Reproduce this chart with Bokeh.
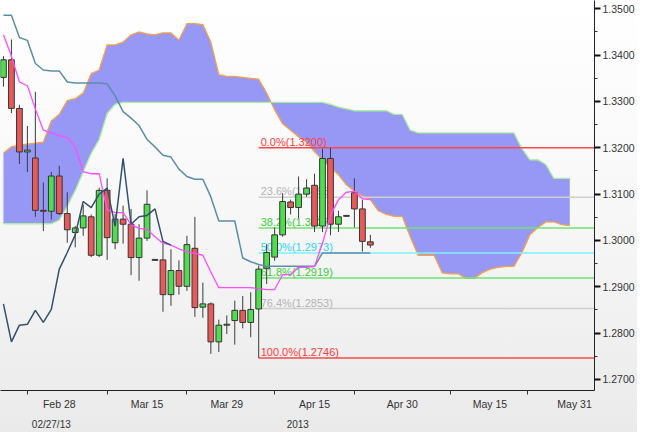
import numpy as np
from bokeh.plotting import figure
from bokeh.models import FixedTicker, LinearAxis, Range1d, PrintfTickFormatter
from bokeh.core.properties import value
from bokeh.embed import file_html
from bokeh.resources import INLINE

# ---------------- data ----------------
opens = [1.3352, 1.3390, 1.3285, 1.3191, 1.3178, 1.3065, 1.3063, 1.3139, 1.3058, 1.3017,
         1.3027, 1.3051, 1.2968, 1.3108, 1.2995, 1.3046, 1.3035, 1.2963, 1.3005, 1.2957,
         1.2958, 1.2883, 1.2935, 1.2901, 1.2983, 1.2856, 1.2863, 1.2781, 1.2817, 1.2827,
         1.2849, 1.2823, 1.2852, 1.2940, 1.2964, 1.3012, 1.3083, 1.3071, 1.3100, 1.3119,
         1.3031, 1.3177, 1.3035, 1.3052, 1.3103, 1.3068, 1.2997]
highs = [1.3398, 1.3434, 1.3293, 1.3247, 1.3321, 1.3125, 1.3148, 1.3161, 1.3104, 1.3031,
         1.3077, 1.3056, 1.3114, 1.3134, 1.3057, 1.3075, 1.3068, 1.3035, 1.3108, 1.2960,
         1.2998, 1.2981, 1.2957, 1.3010, 1.3051, 1.2909, 1.2866, 1.2829, 1.2838, 1.2870,
         1.2880, 1.2888, 1.2946, 1.2992, 1.3028, 1.3102, 1.3088, 1.3138, 1.3132, 1.3144,
         1.3198, 1.3200, 1.3064, 1.3054, 1.3134, 1.3088, 1.3012]
lows = [1.3332, 1.3275, 1.3165, 1.3148, 1.3051, 1.3020, 1.3045, 1.3055, 1.2995, 1.2985,
        1.3010, 1.2964, 1.2964, 1.2958, 1.2981, 1.2993, 1.2925, 1.2913, 1.2999, 1.2956,
        1.2846, 1.2859, 1.2883, 1.2891, 1.2835, 1.2833, 1.2755, 1.2759, 1.2798, 1.2775,
        1.2810, 1.2791, 1.2746, 1.2906, 1.2956, 1.3008, 1.3056, 1.3048, 1.3094, 1.3018,
        1.3018, 1.3011, 1.3018, 1.3051, 1.3028, 1.2976, 1.2984]
closes = [1.3390, 1.3285, 1.3191, 1.3195, 1.3065, 1.3063, 1.3139, 1.3058, 1.3023, 1.3027,
          1.3053, 1.2968, 1.3108, 1.3006, 1.3046, 1.3035, 1.2963, 1.3005, 1.3078, 1.2959,
          1.2883, 1.2935, 1.2901, 1.2991, 1.2855, 1.2863, 1.2781, 1.2817, 1.2819, 1.2849,
          1.2823, 1.2851, 1.2938, 1.2974, 1.3012, 1.3084, 1.3071, 1.3100, 1.3113, 1.3031,
          1.3177, 1.3035, 1.3051, 1.3054, 1.3068, 1.2998, 1.2990]

tenkan = [1.3444, 1.3398, 1.3342, 1.3334, 1.3284, 1.3238, 1.3232, 1.3226, 1.3222, 1.3202,
          1.3148, 1.3144, 1.3144, 1.3066, 1.3060, 1.3060, 1.3034, 1.3026, 1.3024, 1.3008,
          1.2994, 1.2990, 1.2982, 1.2976, 1.2972, 1.2968, 1.2932, 1.2898, 1.2898, 1.2898,
          1.2898, 1.2898, 1.2896, 1.2894, 1.2894, 1.2926, 1.2926, 1.2942, 1.2942, 1.2944,
          1.2994, 1.3054, 1.3088, 1.3104, 1.3106, 1.3090, 1.3088]
kijun = [1.3486, 1.3486, 1.3438, 1.3432, 1.3382, 1.3368, 1.3366, 1.3366, 1.3342, 1.3340,
         1.3340, 1.3340, 1.3340, 1.3338, 1.3312, 1.3278, 1.3264, 1.3248, 1.3218, 1.3202,
         1.3184, 1.3180, 1.3154, 1.3138, 1.3132, 1.3132, 1.3094, 1.3042, 1.3042, 1.3042,
         1.2962, 1.2954, 1.2948, 1.2944, 1.2944, 1.2944, 1.2944, 1.2944, 1.2944, 1.2944,
         1.2973, 1.2973, 1.2973, 1.2973, 1.2973, 1.2973, 1.2973]
span_a = [1.3188, 1.3202, 1.3206, 1.3208, 1.3210, 1.3212, 1.3258, 1.3272, 1.3302, 1.3306,
          1.3318, 1.3360, 1.3368, 1.3422, 1.3422, 1.3428, 1.3444, 1.3450, 1.3446, 1.3444,
          1.3448, 1.3448, 1.3432, 1.3468, 1.3468, 1.3466, 1.3428, 1.3358, 1.3354, 1.3354,
          1.3352, 1.3350, 1.3348, 1.3318, 1.3282, 1.3252, 1.3238, 1.3224, 1.3212, 1.3192,
          1.3174, 1.3158, 1.3142, 1.3120, 1.3106, 1.3096, 1.3088, 1.3064, 1.3056, 1.3052,
          1.3052, 1.3008, 1.2968, 1.2968, 1.2968, 1.2930, 1.2928, 1.2928, 1.2918, 1.2918,
          1.2930, 1.2938, 1.2942, 1.2944, 1.2944, 1.2974, 1.3012, 1.3028, 1.3040, 1.3040,
          1.3034, 1.3032]
span_b = [1.3036, 1.3036, 1.3036, 1.3036, 1.3036, 1.3036, 1.3036, 1.3044, 1.3074, 1.3108,
          1.3148, 1.3188, 1.3218, 1.3274, 1.3294, 1.3298, 1.3298, 1.3298, 1.3298, 1.3298,
          1.3298, 1.3298, 1.3298, 1.3298, 1.3298, 1.3298, 1.3298, 1.3298, 1.3298, 1.3298,
          1.3298, 1.3298, 1.3298, 1.3298, 1.3298, 1.3298, 1.3298, 1.3298, 1.3298, 1.3298,
          1.3298, 1.3294, 1.3288, 1.3284, 1.3280, 1.3280, 1.3280, 1.3280, 1.3280, 1.3272,
          1.3272, 1.3238, 1.3232, 1.3232, 1.3232, 1.3232, 1.3232, 1.3232, 1.3232, 1.3232,
          1.3232, 1.3232, 1.3232, 1.3232, 1.3232, 1.3198, 1.3174, 1.3174, 1.3164, 1.3134,
          1.3134, 1.3134]
chikou_lag = 25

fib_labels = ["0.0%(1.3200)", "23.6%(1.3093)", "38.2%(1.3027)", "50.0%(1.2973)",
              "61.8%(1.2919)", "76.4%(1.2853)", "100.0%(1.2746)"]
fib_levels = [1.3200, 1.3093, 1.3027, 1.2973, 1.2919, 1.2853, 1.2746]
fib_start = 32

x_tick_pos = [7, 18, 28, 39, 50, 61, 71.6]
x_tick_labels = ["Feb 28", "Mar 15", "Mar 29", "Apr 15", "Apr 30", "May 15", "May 31"]
x_minor_pos = [3, 13, 23, 34, 44, 56, 65.7]
y_ticks = [1.27, 1.28, 1.29, 1.30, 1.31, 1.32, 1.33, 1.34, 1.35]
y_minor = [1.275, 1.285, 1.295, 1.305, 1.315, 1.325, 1.335, 1.345]
row2_pos = [6, 36.9]
row2_labels = ["02/27/13", "2013"]

# ---------------- styles ----------------
FONT = "Liberation Sans"
UP, DOWN, EDGE = "#4fdc4f", "#e85a5a", "#353535"

n = len(closes)
idx = np.arange(n)
cidx = np.arange(len(span_a))
o = np.array(opens); c = np.array(closes)

XR = (-0.37, 74.1)
p = figure(width=637, height=432, output_backend="svg", toolbar_location=None,
           x_range=Range1d(*XR), y_range=Range1d(1.2676, 1.3518),
           y_axis_location="right", min_border_left=0, min_border_top=0,
           min_border_right=40, min_border_bottom=10)
p.xgrid.visible = False
p.ygrid.visible = False
p.outline_line_color = None
p.background_fill_color = None
p.border_fill_color = None
p.styles = {"background": "linear-gradient(to bottom, #ffffff 0%, #f7f7f7 50%, #eaeaea 100%)"}

# cloud
p.varea(x=cidx, y1=span_a, y2=span_b, fill_color="#9797f6", fill_alpha=1.0)
p.line(cidx, span_a, line_color="#f5a04a", line_width=1.3)
p.line(cidx, span_b, line_color="#a8eea0", line_width=1.3)

# fibonacci
fib_line_colors = ["#ff4848", "#cfcfcf", "#6ee46e", "#7ff2ff", "#6ee46e", "#cfcfcf", "#ff4848"]
fib_text_colors = ["#ff3a3a", "#b4b4b4", "#3ccc3c", "#2fd6f0", "#3ccc3c", "#b4b4b4", "#ff3a3a"]
p.segment(x0=[fib_start] * len(fib_levels), x1=[80] * len(fib_levels), y0=fib_levels, y1=fib_levels,
          line_color=fib_line_colors, line_width=1.5)
p.text(x=[fib_start] * len(fib_levels), y=fib_levels, text=fib_labels, text_color=fib_text_colors,
       text_font=value(FONT), text_font_size="11px", text_baseline="bottom", x_offset=2, y_offset=0)

# candles
p.segment(x0=idx, x1=idx, y0=lows, y1=highs, line_color="#3c3c3c", line_width=1)
colors = [UP if cc >= oo else DOWN for oo, cc in zip(opens, closes)]
p.vbar(x=idx, width=0.72, top=np.maximum(o, c), bottom=np.minimum(o, c),
       fill_color=colors, line_color=EDGE, line_width=1)

# ichimoku lines
p.line(idx, kijun, line_color="#5a8ea6", line_width=1.5)
p.line(idx, tenkan, line_color="#ff4cff", line_width=1.3)
p.line(idx[chikou_lag:] - chikou_lag, closes[chikou_lag:], line_color="#34506e", line_width=1.5)

# axes
ya = p.yaxis[0]
ya.ticker = FixedTicker(ticks=y_ticks, minor_ticks=y_minor)
ya.formatter = PrintfTickFormatter(format="%.4f")
ya.axis_line_color = "#222222"
ya.major_tick_line_color = "#111111"
ya.major_tick_line_width = 2
ya.major_tick_out = 6
ya.major_tick_in = 0
ya.minor_tick_out = 3
ya.minor_tick_in = 0
ya.minor_tick_line_color = "#333333"
ya.major_label_text_font = FONT
ya.major_label_text_font_size = "10.5px"
ya.major_label_text_color = "#333333"
ya.major_label_standoff = 2

xa = p.xaxis[0]
xa.ticker = FixedTicker(ticks=x_tick_pos, minor_ticks=x_minor_pos)
xa.major_label_overrides = {t: l for t, l in zip(x_tick_pos, x_tick_labels)}
xa.axis_line_color = "#222222"
xa.major_tick_out = 0
xa.major_tick_in = 0
xa.minor_tick_out = 4
xa.minor_tick_in = 0
xa.minor_tick_line_color = "#333333"
xa.major_label_text_font = FONT
xa.major_label_text_font_size = "10.5px"
xa.major_label_text_color = "#333333"
xa.major_label_standoff = 3

ax2 = LinearAxis(ticker=FixedTicker(ticks=row2_pos, minor_ticks=[]),
                 major_label_overrides={t: l for t, l in zip(row2_pos, row2_labels)})
ax2.axis_line_color = None
ax2.major_tick_line_color = None
ax2.minor_tick_line_color = None
ax2.major_label_standoff = 0
ax2.major_label_text_font = FONT
ax2.major_label_text_font_size = "10px"
ax2.major_label_text_color = "#333333"
p.add_layout(ax2, "below")

open("out.html", "w").write(file_html(p, INLINE))
